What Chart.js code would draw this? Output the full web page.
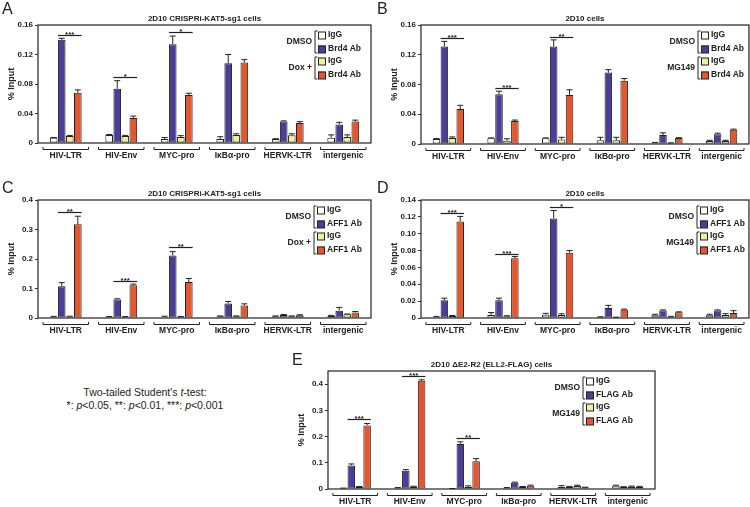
<!DOCTYPE html>
<html>
<head>
<meta charset="utf-8">
<script src="https://cdn.jsdelivr.net/npm/chart.js@4.4.0/dist/chart.umd.min.js"></script>
<style>
  body { margin: 0; background: #fff; width: 750px; height: 507px; position: relative; overflow: hidden;
         font-family: "Liberation Sans", Arial, sans-serif; }
  canvas { position: absolute; }
  #note { position: absolute; left: 20px; width: 250px; top: 386px; text-align: center;
          font-size: 10.5px; line-height: 13px; color: #222; }
</style>
</head>
<body>
<canvas id="cA" width="375" height="170" style="left:0;top:0"></canvas>
<canvas id="cB" width="375" height="170" style="left:375px;top:0"></canvas>
<canvas id="cC" width="375" height="170" style="left:0;top:170px"></canvas>
<canvas id="cD" width="375" height="170" style="left:375px;top:170px"></canvas>
<canvas id="cE" width="470" height="177" style="left:280px;top:330px"></canvas>
<div id="note">Two-tailed Student's <i>t</i>-test:<br>*: <i>p</i>&lt;0.05, **: <i>p</i>&lt;0.01, ***: <i>p</i>&lt;0.001</div>

<script>
const FONT = '"Liberation Sans", Arial, sans-serif';

const categories = ["HIV-LTR", "HIV-Env", "MYC-pro", "IκBα-pro", "HERVK-LTR", "intergenic"];

// A: CRISPRi-KAT5, Brd4 ChIP
const aDmsoIgG = [0.007, 0.011, 0.0055, 0.0055, 0.0055, 0.007];
const aDmsoIgGErr = [0.0005, 0.0005, 0.002, 0.003, 0.0003, 0.004];
const aDmsoAb = [0.140, 0.0735, 0.134, 0.108, 0.029, 0.025];
const aDmsoAbErr = [0.002, 0.011, 0.011, 0.012, 0.001, 0.003];
const aDoxIgG = [0.0095, 0.0095, 0.008, 0.011, 0.0105, 0.008];
const aDoxIgGErr = [0.0008, 0.0008, 0.002, 0.0015, 0.002, 0.003];
const aDoxAb = [0.068, 0.034, 0.065, 0.109, 0.027, 0.029];
const aDoxAbErr = [0.004, 0.0025, 0.0025, 0.004, 0.002, 0.002];
const aSig = [[0, 0.147, "***"], [1, 0.089, "*"], [2, 0.150, "*"]];
const aTicks = [0, 0.04, 0.08, 0.12, 0.16];
const aTickLabels = ["0", "0.04", "0.08", "0.12", "0.16"];

// B: 2D10, Brd4 ChIP
const bDmsoIgG = [0.0068, 0.0077, 0.0077, 0.005, 0.0018, 0.004];
const bDmsoIgGErr = [0.0005, 0.0005, 0.0005, 0.004, 0.0003, 0.001];
const bDmsoAb = [0.131, 0.067, 0.131, 0.096, 0.012, 0.013];
const bDmsoAbErr = [0.007, 0.004, 0.009, 0.004, 0.003, 0.0015];
const bMgIgG = [0.008, 0.0045, 0.006, 0.005, 0.0013, 0.004];
const bMgIgGErr = [0.0015, 0.0025, 0.003, 0.004, 0.0003, 0.001];
const bMgAb = [0.047, 0.031, 0.066, 0.085, 0.008, 0.019];
const bMgAbErr = [0.005, 0.0012, 0.007, 0.003, 0.0005, 0.001];
const bSig = [[0, 0.1427, "***"], [1, 0.075, "***"], [2, 0.1445, "**"]];

// C: CRISPRi-KAT5, AFF1 ChIP
const cDmsoIgG = [0.0045, 0.004, 0.004, 0.006, 0.006, 0.008];
const cDmsoIgGErr = [0.001, 0.001, 0.002, 0.001, 0.001, 0.001];
const cDmsoAb = [0.108, 0.063, 0.212, 0.049, 0.010, 0.025];
const cDmsoAbErr = [0.012, 0.002, 0.013, 0.007, 0.002, 0.011];
const cDoxIgG = [0.005, 0.004, 0.004, 0.006, 0.006, 0.0125];
const cDoxIgGErr = [0.001, 0.001, 0.001, 0.001, 0.001, 0.001];
const cDoxAb = [0.318, 0.111, 0.122, 0.042, 0.009, 0.019];
const cDoxAbErr = [0.027, 0.004, 0.012, 0.006, 0.002, 0.003];
const cSig = [[0, 0.358, "**"], [1, 0.126, "***"], [2, 0.24, "**"]];
const cTicks = [0, 0.1, 0.2, 0.3, 0.4];
const cTickLabels = ["0", "0.1", "0.2", "0.3", "0.4"];

// D: 2D10, AFF1 ChIP
const dDmsoIgG = [0.0016, 0.0035, 0.004, 0.0012, 0.0032, 0.0032];
const dDmsoIgGErr = [0.0003, 0.003, 0.0015, 0.0003, 0.0012, 0.0012];
const dDmsoAb = [0.021, 0.021, 0.118, 0.012, 0.009, 0.009];
const dDmsoAbErr = [0.0025, 0.0025, 0.0095, 0.003, 0.0006, 0.0006];
const dMgIgG = [0.0025, 0.0022, 0.0035, 0.0008, 0.0016, 0.0036];
const dMgIgGErr = [0.0005, 0.0005, 0.0015, 0.0002, 0.0003, 0.0015];
const dMgAb = [0.1145, 0.071, 0.0775, 0.0098, 0.0067, 0.006];
const dMgAbErr = [0.006, 0.002, 0.0025, 0.0008, 0.0006, 0.0027];
const dSig = [[0, 0.125, "***"], [1, 0.0757, "***"], [2, 0.1318, "*"]];
const dTicks = [0, 0.02, 0.04, 0.06, 0.08, 0.10, 0.12, 0.14];
const dTickLabels = ["0", "0.02", "0.04", "0.06", "0.08", "0.10", "0.12", "0.14"];

// E: ΔE2-R2 (ELL2-FLAG), FLAG ChIP
const eDmsoIgG = [0.003, 0.005, 0.0015, 0.005, 0.009, 0.0125];
const eDmsoIgGErr = [0.0005, 0.0005, 0.0005, 0.0005, 0.004, 0.002];
const eDmsoAb = [0.0895, 0.070, 0.172, 0.024, 0.009, 0.0077];
const eDmsoAbErr = [0.006, 0.004, 0.008, 0.002, 0.001, 0.001];
const eMgIgG = [0.009, 0.010, 0.009, 0.009, 0.0115, 0.010];
const eMgIgGErr = [0.0005, 0.0005, 0.003, 0.0005, 0.003, 0.001];
const eMgAb = [0.2425, 0.4125, 0.106, 0.0128, 0.0064, 0.009];
const eMgAbErr = [0.007, 0.004, 0.01, 0.002, 0.0005, 0.001];
const eSig = [[0, 0.2656, "***"], [1, 0.432, "***"], [2, 0.193, "**"]];
const eTicks = [0, 0.1, 0.2, 0.3, 0.4];
const eTickLabels = ["0", "0.1", "0.2", "0.3", "0.4"];

const barColors = ["#ffffff", "#4b3e99", "#f1ef9b", "#e4572e"];
const legendRows = [10, 24, 36, 50];

// frame, error bars, significance bars, group brackets, legend, titles
const panelDecor = {
    id: "panelDecor",
    afterDraw(chart, args, o) {
        const ctx = chart.ctx;
        const { left, right, top, bottom } = chart.chartArea;
        const xs = chart.scales.x;
        const ys = chart.scales.y;
        ctx.save();

        ctx.strokeStyle = "#333";
        ctx.lineWidth = 1.3;
        ctx.strokeRect(left, top, right - left, bottom - top);

        ctx.strokeStyle = "#222";
        ctx.lineWidth = 1;
        chart.data.datasets.forEach((ds, i) => {
            chart.getDatasetMeta(i).data.forEach((bar, j) => {
                const e = o.errors[i][j];
                if (!e) return;
                const y1 = ys.getPixelForValue(ds.data[j] + e);
                ctx.beginPath();
                ctx.moveTo(bar.x, bar.y);
                ctx.lineTo(bar.x, y1);
                ctx.moveTo(bar.x - 3, y1);
                ctx.lineTo(bar.x + 3, y1);
                ctx.stroke();
            });
        });

        // t-test bars between Ab (DMSO) and Ab (treated)
        const ab1 = chart.getDatasetMeta(1).data;
        const ab2 = chart.getDatasetMeta(3).data;
        ctx.font = "bold 8px " + FONT;
        ctx.fillStyle = "#222";
        ctx.textAlign = "center";
        ctx.textBaseline = "alphabetic";
        o.sig.forEach(([g, v, stars]) => {
            const x0 = ab1[g].x - ab1[g].width / 2;
            const x1 = ab2[g].x + ab2[g].width / 2;
            const y = Math.round(ys.getPixelForValue(v)) + 0.5;
            ctx.lineWidth = 1.2;
            ctx.beginPath();
            ctx.moveTo(x0, y);
            ctx.lineTo(x1, y);
            ctx.stroke();
            ctx.fillText(stars, (x0 + x1) / 2, y + 1);
        });

        // category brackets under the axis
        const half = xs.width / categories.length * 0.41;
        ctx.lineWidth = 1;
        categories.forEach((c, j) => {
            const cx = xs.getPixelForValue(j);
            const y = bottom + 6.5;
            ctx.beginPath();
            ctx.moveTo(cx - half, y - 2.5);
            ctx.lineTo(cx - half, y);
            ctx.lineTo(cx + half, y);
            ctx.lineTo(cx + half, y - 2.5);
            ctx.stroke();
        });

        // legend
        const lx = o.legendX;
        ctx.font = "bold 8.5px " + FONT;
        ctx.textBaseline = "middle";
        chart.data.datasets.forEach((ds, i) => {
            const y = top + legendRows[i];
            ctx.fillStyle = ds.backgroundColor;
            ctx.fillRect(lx - 10, y - 3.5, 7.5, 7.5);
            ctx.strokeStyle = "#222";
            ctx.strokeRect(lx - 9.5, y - 3, 7, 7);
            ctx.fillStyle = "#222";
            ctx.textAlign = "left";
            ctx.fillText(ds.label, lx, y);
        });
        [[0, 1], [2, 3]].forEach((pair, k) => {
            const y0 = top + legendRows[pair[0]] - 4;
            const y1 = top + legendRows[pair[1]] + 4;
            const bx = lx - 13;
            ctx.beginPath();
            ctx.moveTo(bx + 2.5, y0);
            ctx.lineTo(bx, y0);
            ctx.lineTo(bx, y1);
            ctx.lineTo(bx + 2.5, y1);
            ctx.stroke();
            ctx.textAlign = "right";
            ctx.fillText(o.groups[k], bx - 3, (y0 + y1) / 2);
        });

        // title, panel letter, y title
        ctx.font = "bold 8px " + FONT;
        ctx.textAlign = "center";
        ctx.fillText(o.title, (left + right) / 2, top - 6);

        ctx.font = "16px " + FONT;
        ctx.textAlign = "left";
        ctx.textBaseline = "alphabetic";
        ctx.fillText(o.letter, o.letterX, o.letterY);

        ctx.save();
        ctx.translate(left - 26, (top + bottom) / 2);
        ctx.rotate(-Math.PI / 2);
        ctx.font = "bold 9px " + FONT;
        ctx.textAlign = "center";
        ctx.textBaseline = "middle";
        ctx.fillText("% Input", 0, 0);
        ctx.restore();

        ctx.restore();
    },
};

function makePanel(id, cfg) {
    const canvas = document.getElementById(id);
    const area = cfg.area;
    const tickFont = { family: FONT, size: 8, weight: "bold" };
    new Chart(canvas, {
        type: "bar",
        data: {
            labels: categories,
            datasets: cfg.series.map((s, i) => ({
                label: cfg.labels[i],
                data: s,
                backgroundColor: barColors[i],
                borderColor: "#222",
                borderWidth: 1,
                borderSkipped: false,
                categoryPercentage: 0.58,
                barPercentage: 0.95,
            })),
        },
        options: {
            responsive: false,
            animation: false,
            events: [],
            layout: { padding: { left: 0, top: area.top, right: canvas.width - area.right, bottom: 0 } },
            plugins: {
                legend: { display: false },
                tooltip: { enabled: false },
                panelDecor: {
                    errors: cfg.errors,
                    sig: cfg.sig,
                    groups: cfg.groups,
                    legendX: cfg.legendX,
                    title: cfg.title,
                    letter: cfg.letter,
                    letterX: cfg.letterX,
                    letterY: cfg.letterY,
                },
            },
            scales: {
                x: {
                    grid: { display: false, drawTicks: false },
                    border: { display: false },
                    ticks: { font: { family: FONT, size: 8.5, weight: "bold" }, color: "#222",
                             padding: 8, maxRotation: 0, autoSkip: false },
                    afterFit: (s) => { s.height = canvas.height - area.bottom; },
                },
                y: {
                    min: 0,
                    max: cfg.max,
                    afterBuildTicks: (s) => { s.ticks = cfg.ticks.map((v) => ({ value: v })); },
                    ticks: { font: tickFont, color: "#222", padding: 2,
                             callback: (v, i) => cfg.tickLabels[i] },
                    grid: { drawOnChartArea: false, tickLength: 3, color: "#333" },
                    border: { display: false },
                    afterFit: (s) => { s.width = area.left; },
                },
            },
        },
        plugins: [panelDecor],
    });
}

makePanel("cA", {
    area: { left: 38, top: 25, right: 371, bottom: 143 },
    series: [aDmsoIgG, aDmsoAb, aDoxIgG, aDoxAb],
    errors: [aDmsoIgGErr, aDmsoAbErr, aDoxIgGErr, aDoxAbErr],
    labels: ["IgG", "Brd4 Ab", "IgG", "Brd4 Ab"],
    groups: ["DMSO", "Dox +"],
    sig: aSig, max: 0.16, ticks: aTicks, tickLabels: aTickLabels,
    title: "2D10 CRISPRi-KAT5-sg1 cells", letter: "A", letterX: 2, letterY: 14, legendX: 328,
});

makePanel("cB", {
    area: { left: 46, top: 25, right: 374, bottom: 144 },
    series: [bDmsoIgG, bDmsoAb, bMgIgG, bMgAb],
    errors: [bDmsoIgGErr, bDmsoAbErr, bMgIgGErr, bMgAbErr],
    labels: ["IgG", "Brd4 Ab", "IgG", "Brd4 Ab"],
    groups: ["DMSO", "MG149"],
    sig: bSig, max: 0.16, ticks: aTicks, tickLabels: aTickLabels,
    title: "2D10 cells", letter: "B", letterX: 2, letterY: 14, legendX: 336,
});

makePanel("cC", {
    area: { left: 38, top: 30, right: 371, bottom: 148 },
    series: [cDmsoIgG, cDmsoAb, cDoxIgG, cDoxAb],
    errors: [cDmsoIgGErr, cDmsoAbErr, cDoxIgGErr, cDoxAbErr],
    labels: ["IgG", "AFF1 Ab", "IgG", "AFF1 Ab"],
    groups: ["DMSO", "Dox +"],
    sig: cSig, max: 0.4, ticks: cTicks, tickLabels: cTickLabels,
    title: "2D10 CRISPRi-KAT5-sg1 cells", letter: "C", letterX: 2, letterY: 23, legendX: 327,
});

makePanel("cD", {
    area: { left: 46, top: 30, right: 374, bottom: 148 },
    series: [dDmsoIgG, dDmsoAb, dMgIgG, dMgAb],
    errors: [dDmsoIgGErr, dDmsoAbErr, dMgIgGErr, dMgAbErr],
    labels: ["IgG", "AFF1 Ab", "IgG", "AFF1 Ab"],
    groups: ["DMSO", "MG149"],
    sig: dSig, max: 0.14, ticks: dTicks, tickLabels: dTickLabels,
    title: "2D10 cells", letter: "D", letterX: 2, letterY: 23, legendX: 335,
});

makePanel("cE", {
    area: { left: 48, top: 41, right: 375, bottom: 159 },
    series: [eDmsoIgG, eDmsoAb, eMgIgG, eMgAb],
    errors: [eDmsoIgGErr, eDmsoAbErr, eMgIgGErr, eMgAbErr],
    labels: ["IgG", "FLAG Ab", "IgG", "FLAG Ab"],
    groups: ["DMSO", "MG149"],
    sig: eSig, max: 0.45, ticks: eTicks, tickLabels: eTickLabels,
    title: "2D10 ΔE2-R2 (ELL2-FLAG) cells", letter: "E", letterX: 12, letterY: 35, legendX: 316,
});
</script>
</body>
</html>
